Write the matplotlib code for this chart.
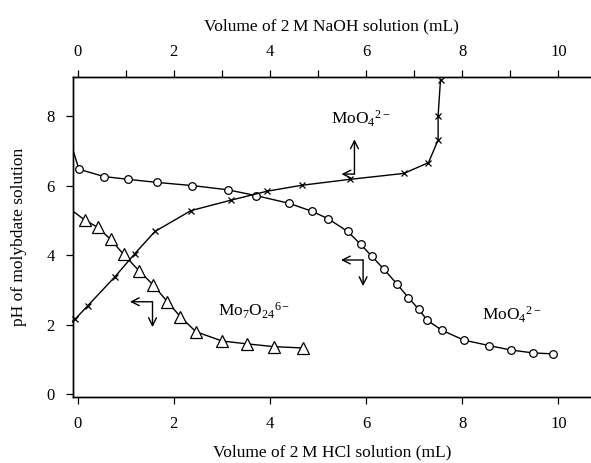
import matplotlib
matplotlib.use("Agg")
import matplotlib.pyplot as plt

plt.rcParams['font.family'] = ['Liberation Serif', 'DejaVu Serif']
plt.rcParams['mathtext.fontset'] = 'custom'
plt.rcParams['mathtext.rm'] = 'Liberation Serif'
plt.rcParams['mathtext.it'] = 'Liberation Serif:italic'

# HCl titration, MoO4(2-) start (circles)
hcl_circ_x = [0.03, 0.55, 1.05, 1.66, 2.39, 3.12, 3.72, 4.40, 4.88, 5.22, 5.62, 5.89,
              6.12, 6.37, 6.65, 6.88, 7.10, 7.27, 7.58, 8.03, 8.56, 9.02, 9.47, 9.90]
hcl_circ_y = [6.47, 6.26, 6.18, 6.09, 6.00, 5.88, 5.71, 5.49, 5.26, 5.04, 4.68, 4.31,
              3.97, 3.60, 3.16, 2.78, 2.44, 2.13, 1.84, 1.56, 1.40, 1.27, 1.19, 1.16]

# HCl titration, Mo7O24(6-) start (triangles)
hcl_tri_x = [0.15, 0.42, 0.69, 0.96, 1.28, 1.57, 1.87, 2.14, 2.46, 3.01, 3.52, 4.08, 4.69]
hcl_tri_y = [5.01, 4.80, 4.45, 4.02, 3.55, 3.15, 2.66, 2.23, 1.80, 1.53, 1.45, 1.37, 1.33]

# NaOH titration (crosses, top axis)
naoh_x = [-0.05, 0.21, 0.78, 1.19, 1.61, 2.36, 3.19, 3.95, 4.67, 5.67, 6.79, 7.30,
          7.50, 7.50, 7.55]
naoh_y = [2.16, 2.54, 3.38, 4.04, 4.68, 5.28, 5.58, 5.84, 6.01, 6.18, 6.35, 6.66,
          7.31, 8.00, 9.05]

# curve ends at the axis edge
circ_start = (-0.1, 7.05)
tri_start = (-0.1, 5.27)
naoh_start = (-0.1, 2.10)

fig = plt.figure(figsize=(5.91, 4.63), dpi=100)
ax = fig.add_axes([0.123, 0.1432, 0.877, 0.6911])
ax2 = ax.twiny()

xlim = (-0.1, 10.68)
ylim = (-0.07, 9.13)

lw = 1.0
ax.plot([circ_start[0]] + hcl_circ_x, [circ_start[1]] + hcl_circ_y, color='black', lw=lw)
ax.plot(hcl_circ_x, hcl_circ_y, ls='none', marker='o', ms=5.5, mfc='white',
        mec='black', mew=0.9)
ax.plot([tri_start[0]] + hcl_tri_x, [tri_start[1]] + hcl_tri_y, color='black', lw=lw)
ax.plot(hcl_tri_x, hcl_tri_y, ls='none', marker='^', ms=8, mfc='white',
        mec='black', mew=0.9)
ax2.plot([naoh_start[0]] + naoh_x, [naoh_start[1]] + naoh_y, color='black', lw=lw,
         clip_on=False)
ax2.plot(naoh_x, naoh_y, ls='none', marker='x', ms=4, color='black', mew=0.9,
         clip_on=False)


def bent_arrow(a, tip1, corner, tip2):
    # two arrowheads sharing one corner
    for tip in (tip1, tip2):
        a.annotate('', xy=tip, xytext=corner,
                   arrowprops=dict(arrowstyle='->', lw=1.0, color='black',
                                   shrinkA=0, shrinkB=0, mutation_scale=14))


bent_arrow(ax, (5.49, 6.33), (5.76, 6.33), (5.76, 7.33))
bent_arrow(ax, (1.09, 2.66), (1.56, 2.66), (1.56, 1.93))
bent_arrow(ax, (5.48, 3.86), (5.94, 3.86), (5.94, 3.11))

fs = 12.5
ax.text(5.28, 7.93, r'$\mathregular{MoO_4{}^{2-}}$', fontsize=fs, ha='left', va='center')
ax.text(2.92, 2.4, r'$\mathregular{Mo_7O_{24}{}^{6-}}$', fontsize=fs, ha='left', va='center')
ax.text(8.42, 2.28, r'$\mathregular{MoO_4{}^{2-}}$', fontsize=fs, ha='left', va='center')

for a in (ax, ax2):
    a.set_xlim(*xlim)
    a.set_ylim(*ylim)
    a.spines['right'].set_visible(False)
    a.tick_params(direction='out', length=5, width=0.9, labelsize=12)
    for s in a.spines.values():
        s.set_linewidth(1.0)

ax.set_xticks([0, 2, 4, 6, 8, 10])
ax.set_yticks([0, 2, 4, 6, 8])
ax.tick_params(axis='x', pad=9)
ax.tick_params(axis='y', pad=8)
ax2.set_xticks([0, 2, 4, 6, 8, 10])
ax2.set_xticks([1, 3, 5, 7, 9], minor=True)
ax2.tick_params(axis='x', which='minor', direction='out', length=5, width=0.9)
ax2.tick_params(axis='x', pad=7)

ax.set_xlabel('Volume of 2\u2009M HCl solution (mL)', fontsize=12.5, labelpad=9)
ax2.set_xlabel('Volume of 2\u2009M NaOH solution (mL)', fontsize=12.5, labelpad=10)
ax.set_ylabel('pH of molybdate solution', fontsize=12.5, labelpad=14)

fig.savefig('out.png', dpi=100)
